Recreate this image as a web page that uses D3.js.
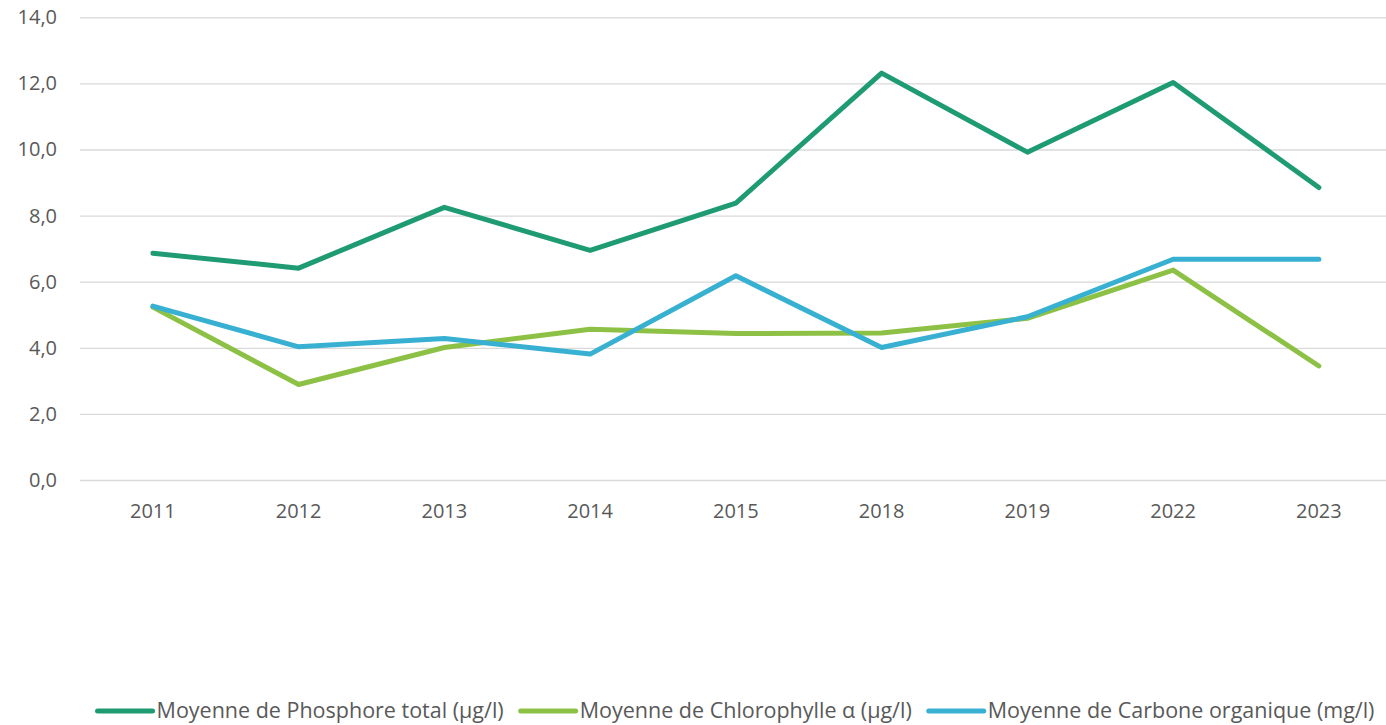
<!DOCTYPE html>
<html><head><meta charset="utf-8">
<script src="https://cdn.jsdelivr.net/npm/d3@7"></script>
<style>body{margin:0;background:#fff}svg{display:block}text{font-family:"Open Sans",sans-serif;fill:#595959}</style>
</head><body>
<svg id="c" width="1386" height="725"></svg>
<script>
const years = ["2011","2012","2013","2014","2015","2018","2019","2022","2023"];
const phosphore = [6.86, 6.41, 8.25, 6.95, 8.38, 12.31, 9.92, 12.03, 8.85];
const chlorophylle = [5.23, 2.89, 4.01, 4.56, 4.43, 4.45, 4.89, 6.35, 3.45];
const carbone = [5.26, 4.03, 4.28, 3.81, 6.18, 4.01, 4.94, 6.68, 6.68];
const yTicks = [0, 2, 4, 6, 8, 10, 12, 14];
const seriesNames = ["Moyenne de Phosphore total (µg/l)", "Moyenne de Chlorophylle α (µg/l)", "Moyenne de Carbone organique (mg/l)"];
const colors = ["#1F9B73", "#8DC145", "#38B0D1"];

const svg = d3.select("#c");
const x = d3.scaleBand().domain(years).range([80, 1391.75]);
const y = d3.scaleLinear().domain([0, 14]).range([480, 17.3]);

const gy = svg.append("g").attr("transform", "translate(80,0)")
  .call(d3.axisLeft(y).tickValues(yTicks).tickSize(-1320).tickPadding(23)
    .tickFormat(d => d3.format(".1f")(d).replace(".", ",")));
gy.select(".domain").remove();
gy.selectAll(".tick line").attr("stroke", "#d9d9d9").attr("stroke-width", 1.3);
gy.selectAll(".tick text").style("font-size", "20px").attr("fill", "#595959");

const gx = svg.append("g").attr("transform", "translate(0,480)")
  .call(d3.axisBottom(x).tickSize(0).tickPadding(24));
gx.select(".domain").remove();
gx.selectAll(".tick text").style("font-size", "20px").attr("fill", "#595959");

const allSeries = [phosphore, chlorophylle, carbone];
const line = d3.line().x((d, i) => x(years[i]) + x.bandwidth() / 2).y(d => y(d));
allSeries.forEach((s, k) => {
  svg.append("path").datum(s).attr("d", line).attr("fill", "none")
    .attr("stroke", colors[k]).attr("stroke-width", 5)
    .attr("stroke-linejoin", "round").attr("stroke-linecap", "round");
});

// legend
const lg = svg.append("g");
let cx = 0;
seriesNames.forEach((n, k) => {
  const g = lg.append("g");
  g.append("line").attr("x1", 0).attr("x2", 55).attr("y1", 711).attr("y2", 711)
    .attr("stroke", colors[k]).attr("stroke-width", 5).attr("stroke-linecap", "round");
  const t = g.append("text").attr("x", 59).attr("y", 718).style("font-size", "21.5px").text(n);
  const w = t.node().getComputedTextLength();
  g.attr("transform", `translate(${cx},0)`);
  cx += 59 + w + 17;
});
const total = cx - 17;
lg.attr("transform", `translate(${736 - total / 2},0)`);
</script>
</body></html>
